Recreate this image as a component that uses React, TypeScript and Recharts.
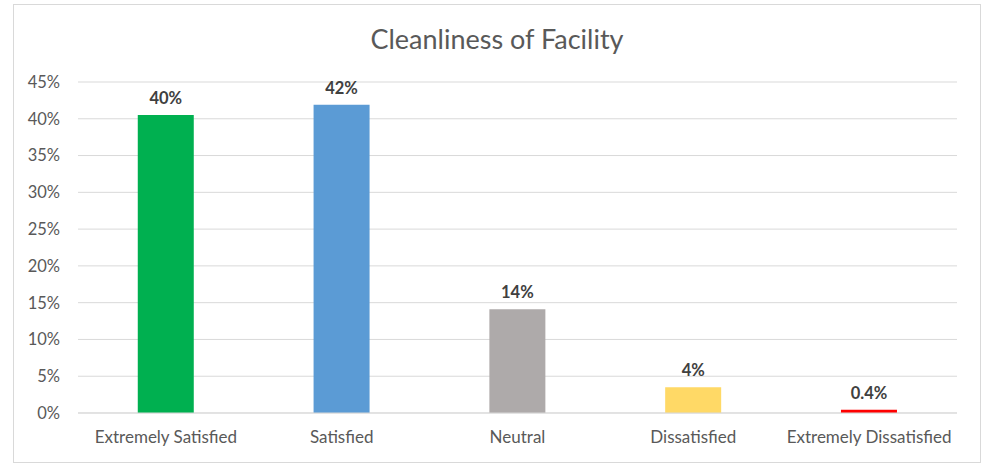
import React from "react";
import { BarChart, Bar, XAxis, YAxis, CartesianGrid, LabelList, Cell } from "recharts";

const categories = ["Extremely Satisfied", "Satisfied", "Neutral", "Dissatisfied", "Extremely Dissatisfied"];
const values = [0.405, 0.419, 0.141, 0.035, 0.0045];
const valueLabels = ["40%", "42%", "14%", "4%", "0.4%"];
const colors = ["#00B050", "#5B9BD5", "#AEAAAA", "#FFD966", "#FF0000"];
const yTicks = [0, 0.05, 0.1, 0.15, 0.2, 0.25, 0.3, 0.35, 0.4, 0.45];

const data = categories.map((c, i) => ({ name: c, value: values[i], label: valueLabels[i] }));

const FONT = "Lato, 'Open Sans', sans-serif";

export default function App() {
  return (
    <div style={{ position: "absolute", left: 0, top: 0, width: 982, height: 463, background: "#fff", fontFamily: FONT }}>
      <div
        style={{
          position: "absolute",
          left: 13,
          top: 4,
          width: 966,
          height: 457,
          border: "1px solid #d9d9d9",
        }}
      />
      <div
        style={{
          position: "absolute",
          left: 0,
          width: 994,
          top: 23,
          textAlign: "center",
          fontSize: 27,
          color: "#595959",
          fontFamily: FONT,
          lineHeight: "32px",
        }}
      >
        Cleanliness of Facility
      </div>
      <div style={{ position: "absolute", left: 0, top: 0 }}>
        <BarChart width={982} height={463} data={data} margin={{ top: 82, right: 25, bottom: 20, left: 18 }} barCategoryGap="34%">
          <CartesianGrid horizontal vertical={false} stroke="#d9d9d9" strokeWidth={1} />
          <XAxis
            dataKey="name"
            tickLine={false}
            tickSize={0}
            tickMargin={18}
            axisLine={{ stroke: "#d9d9d9" }}
            height={30}
            interval={0}
            tick={{ fill: "#595959", fontSize: 17, fontFamily: FONT }}
          />
          <YAxis
            domain={[0, 0.45]}
            ticks={yTicks}
            width={60}
            tickLine={false}
            tickSize={0}
            tickMargin={18}
            axisLine={false}
            tickFormatter={(v: number) => `${Math.round(v * 100)}%`}
            tick={{ fill: "#595959", fontSize: 16.5, fontFamily: FONT }}
          />
          <Bar dataKey="value" isAnimationActive={false}>
            {data.map((d, i) => (
              <Cell key={d.name} fill={colors[i]} />
            ))}
            <LabelList
              dataKey="label"
              position="top"
              offset={11}
              style={{ fill: "#404040", fontSize: 16.5, fontWeight: 700, fontFamily: FONT }}
            />
          </Bar>
        </BarChart>
      </div>
    </div>
  );
}
